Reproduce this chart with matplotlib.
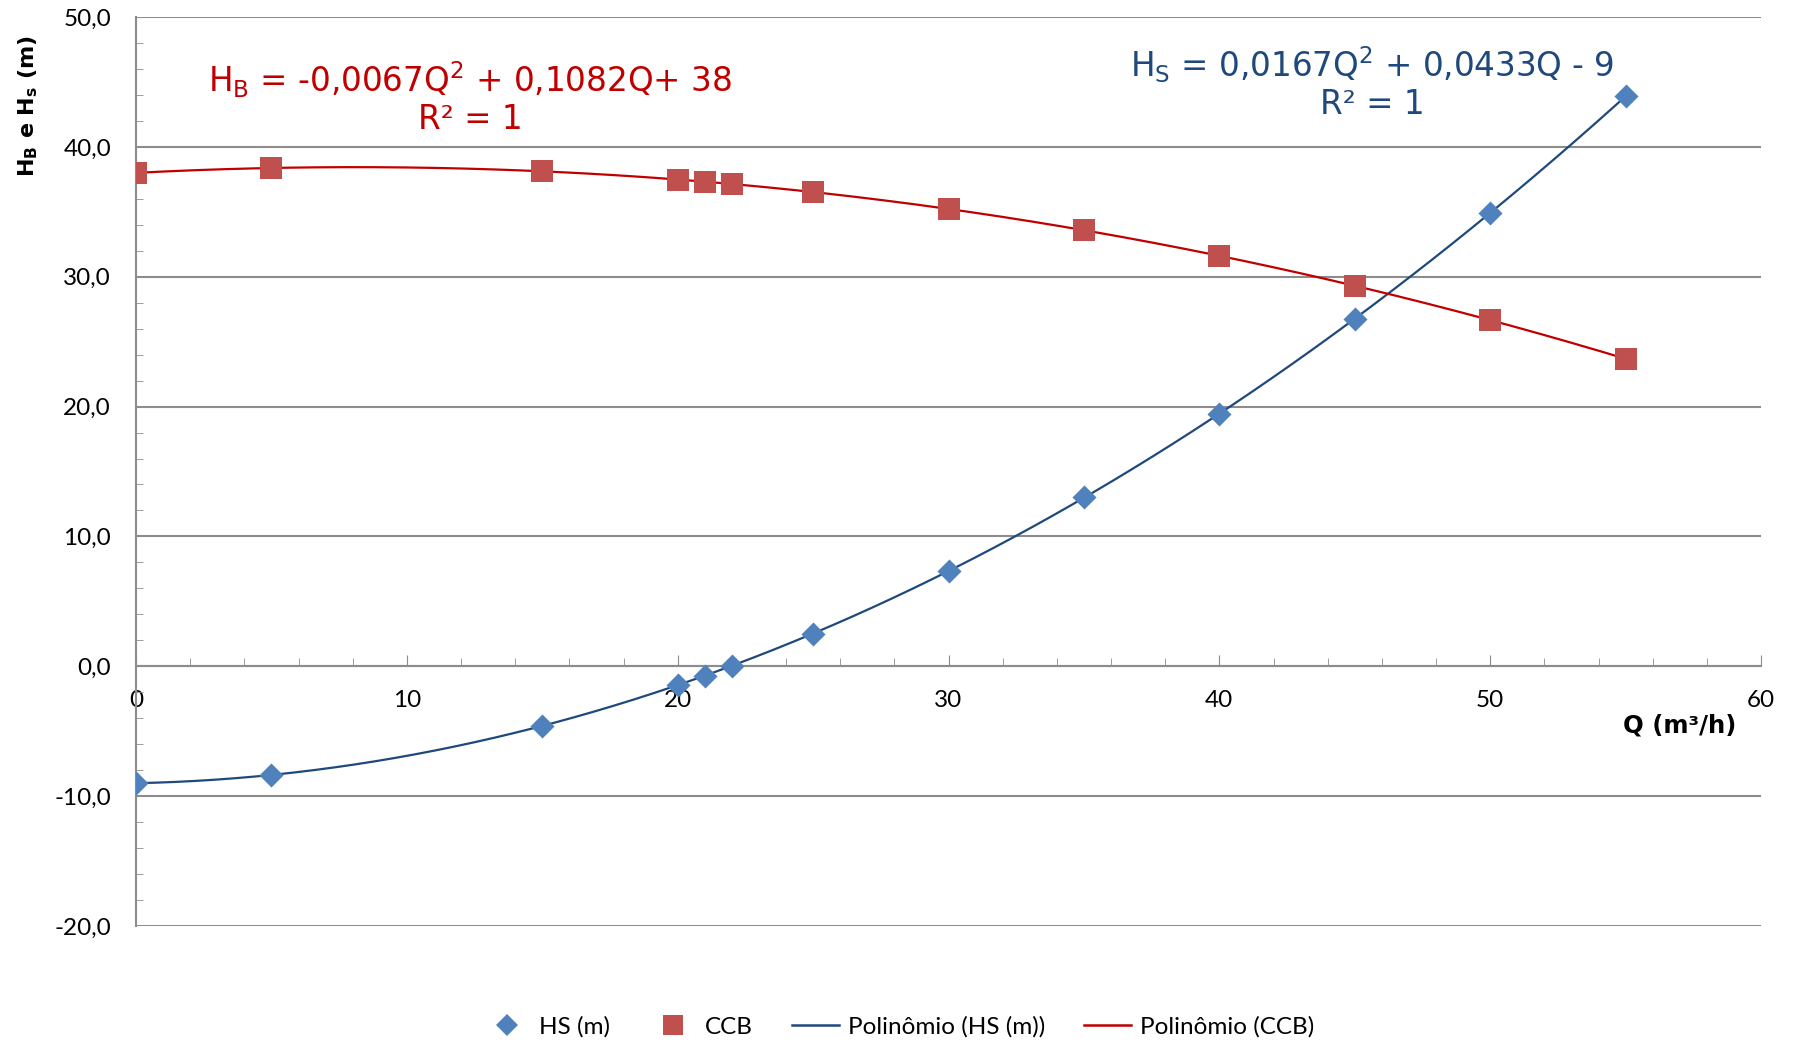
import numpy as np
import matplotlib
matplotlib.use("Agg")
import matplotlib.pyplot as plt
from matplotlib.ticker import MultipleLocator, FuncFormatter
from matplotlib.lines import Line2D

Q = [0, 5, 15, 20, 21, 22, 25, 30, 35, 40, 45, 50, 55]
HS = [-9.0, -8.37, -4.59, -1.45, -0.72, 0.03, 2.52, 7.33, 13.0, 19.45, 26.76, 34.9, 43.9]
CCB = [38.0, 38.37, 38.12, 37.48, 37.32, 37.14, 36.52, 35.22, 33.58, 31.61, 29.3, 26.66, 23.68]

eq_b = "H$_\\mathregular{B}$ = -0,0067Q$^\\mathregular{2}$ + 0,1082Q+ 38\nR² = 1"
eq_s = "H$_\\mathregular{S}$ = 0,0167Q$^\\mathregular{2}$ + 0,0433Q - 9\nR² = 1"
legend_labels = ["HS (m)", "CCB", "Polinômio (HS (m))", "Polinômio (CCB)"]

C_BLUE_M = "#4F81BD"
C_BLUE_L = "#1F497D"
C_RED_M = "#C0504D"
C_RED_L = "#C00000"
GRAY = "#8C8C8C"

plt.rcParams['font.family'] = ['Lato', 'DejaVu Sans']

fig = plt.figure(figsize=(17.97, 10.44), dpi=100)
ax = fig.add_axes([136/1797, 1 - 926/1044, (1761-136)/1797, (926-17)/1044])
ax.set_xlim(0, 60)
ax.set_ylim(-20, 50)

# trend lines
qq = np.linspace(min(Q), max(Q), 300)
pb = np.polyfit(Q, HS, 2)
pc = np.polyfit(Q, CCB, 2)
ax.plot(qq, np.polyval(pb, qq), color=C_BLUE_L, lw=1.6, zorder=3)
ax.plot(qq, np.polyval(pc, qq), color=C_RED_L, lw=1.6, zorder=3)
ax.scatter(Q, HS, marker='D', s=150, color=C_BLUE_M, zorder=4, linewidths=0)
ax.scatter(Q, CCB, marker='s', s=250, color=C_RED_M, zorder=4, linewidths=0)

# grid
ax.yaxis.set_major_locator(MultipleLocator(10))
ax.yaxis.set_minor_locator(MultipleLocator(2))
ax.xaxis.set_major_locator(MultipleLocator(10))
ax.xaxis.set_minor_locator(MultipleLocator(2))
ax.grid(axis='y', which='major', color=GRAY, lw=1.5, zorder=0)
ax.set_axisbelow(True)
for s in ['top', 'right']:
    ax.spines[s].set_visible(False)
ax.spines['bottom'].set_position(('data', 0))
ax.spines['bottom'].set_color(GRAY)
ax.spines['left'].set_color(GRAY)
ax.spines['bottom'].set_linewidth(1.5)
ax.spines['left'].set_linewidth(1.5)

ax.tick_params(axis='y', which='both', direction='in', color=GRAY, labelsize=17.5, pad=18)
ax.tick_params(axis='y', which='major', length=0)
ax.tick_params(axis='y', which='minor', length=5)
ax.tick_params(axis='x', which='both', direction='in', color=GRAY, labelsize=17.5, pad=17)
ax.tick_params(axis='x', which='major', length=8)
ax.tick_params(axis='x', which='minor', length=6)
ax.yaxis.set_major_formatter(FuncFormatter(lambda v, p: f"{v:.1f}".replace('.', ',')))
ax.xaxis.set_major_formatter(FuncFormatter(lambda v, p: f"{v:.0f}"))

# equations
fig.text(470/1797, 1 - 98/1044, eq_b, color=C_RED_L, fontsize=23.5, ha='center', va='center',
         family='DejaVu Sans', linespacing=1.1)
fig.text(1372/1797, 1 - 83/1044, eq_s, color=C_BLUE_L, fontsize=23.5, ha='center', va='center',
         family='DejaVu Sans', linespacing=1.1)

# axis labels
fig.text(28/1797, 1 - 106/1044, "H$_\\mathbf{B}$ e H$_\\mathbf{s}$ (m)", rotation=90,
         fontsize=16, fontweight='bold', ha='center', va='center', family='DejaVu Sans')
fig.text(1680/1797, 1 - 725/1044, "Q (m³/h)", fontsize=17.5, fontweight='bold',
         ha='center', va='center', family='DejaVu Sans')

handles = [
    Line2D([], [], marker='D', ls='none', color=C_BLUE_M, markersize=11, markeredgewidth=0),
    Line2D([], [], marker='s', ls='none', color=C_RED_M, markersize=15, markeredgewidth=0),
    Line2D([], [], color=C_BLUE_L, lw=1.8),
    Line2D([], [], color=C_RED_L, lw=1.8),
]
fig.legend(handles, legend_labels, loc='center', bbox_to_anchor=(0.5, 1 - 1027/1044),
           ncol=4, frameon=False, fontsize=17.5, handlelength=1.95, columnspacing=1.6,
           handletextpad=0.35)

fig.savefig("out.png", dpi=100)
